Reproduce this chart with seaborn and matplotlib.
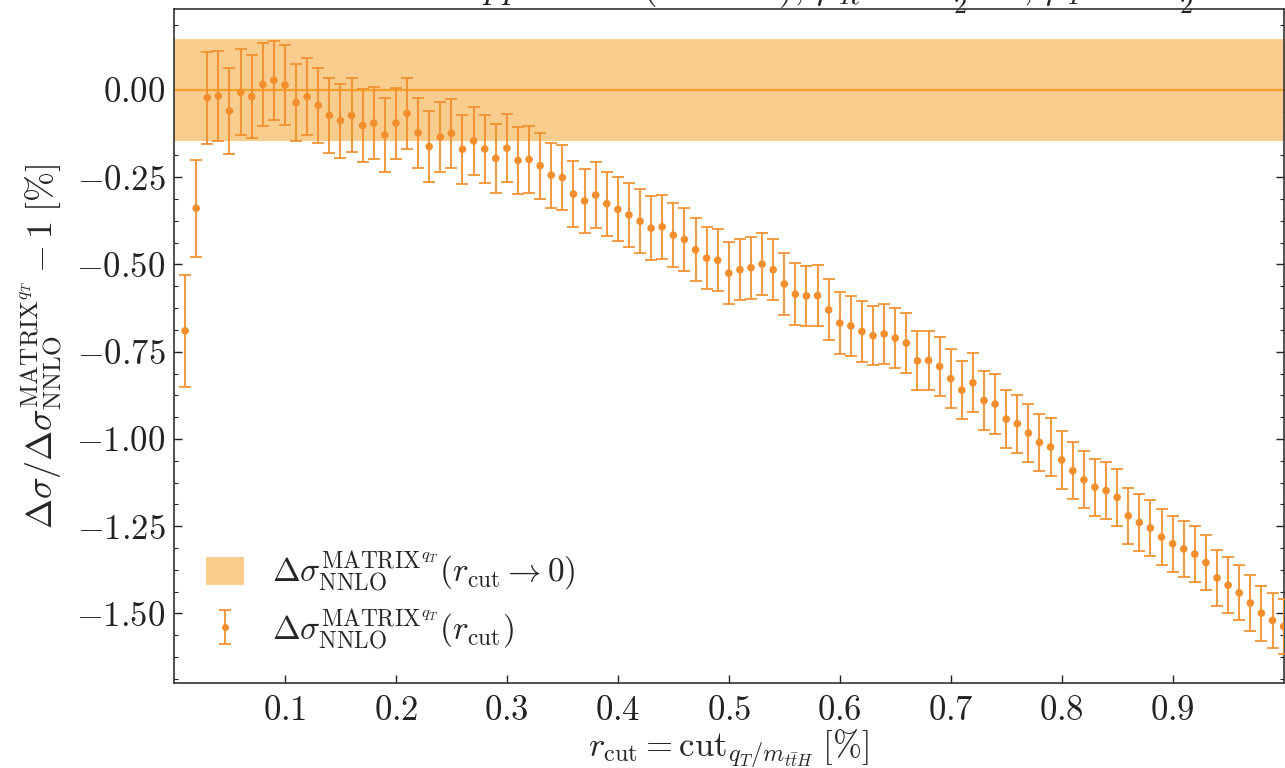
import numpy as np
import pandas as pd
import matplotlib
matplotlib.use("Agg")
import matplotlib.pyplot as plt
from matplotlib.ticker import MultipleLocator, FixedLocator, FuncFormatter
from matplotlib.patches import Patch
from matplotlib.lines import Line2D
from matplotlib.legend_handler import HandlerTuple
import seaborn as sns

# q_T-subtraction cut values r_cut [%]
r_cut = [0.01, 0.02, 0.03, 0.04, 0.05, 0.06, 0.07, 0.08, 0.09, 0.10,
         0.11, 0.12, 0.13, 0.14, 0.15, 0.16, 0.17, 0.18, 0.19, 0.20,
         0.21, 0.22, 0.23, 0.24, 0.25, 0.26, 0.27, 0.28, 0.29, 0.30,
         0.31, 0.32, 0.33, 0.34, 0.35, 0.36, 0.37, 0.38, 0.39, 0.40,
         0.41, 0.42, 0.43, 0.44, 0.45, 0.46, 0.47, 0.48, 0.49, 0.50,
         0.51, 0.52, 0.53, 0.54, 0.55, 0.56, 0.57, 0.58, 0.59, 0.60,
         0.61, 0.62, 0.63, 0.64, 0.65, 0.66, 0.67, 0.68, 0.69, 0.70,
         0.71, 0.72, 0.73, 0.74, 0.75, 0.76, 0.77, 0.78, 0.79, 0.80,
         0.81, 0.82, 0.83, 0.84, 0.85, 0.86, 0.87, 0.88, 0.89, 0.90,
         0.91, 0.92, 0.93, 0.94, 0.95, 0.96, 0.97, 0.98, 0.99, 1.00]

# relative deviation of the NNLO coefficient from its r_cut -> 0 extrapolation [%]
deviation = [-0.690, -0.339, -0.022, -0.017, -0.060, -0.007, -0.019, 0.016, 0.028, 0.014,
             -0.036, -0.019, -0.044, -0.073, -0.088, -0.073, -0.102, -0.095, -0.129, -0.095,
             -0.067, -0.123, -0.162, -0.135, -0.124, -0.170, -0.146, -0.169, -0.196, -0.167,
             -0.202, -0.199, -0.217, -0.244, -0.251, -0.298, -0.318, -0.301, -0.326, -0.342,
             -0.358, -0.376, -0.396, -0.392, -0.416, -0.428, -0.458, -0.482, -0.488, -0.525,
             -0.515, -0.509, -0.499, -0.515, -0.556, -0.585, -0.590, -0.589, -0.630, -0.668,
             -0.676, -0.692, -0.704, -0.699, -0.711, -0.725, -0.776, -0.775, -0.792, -0.827,
             -0.860, -0.839, -0.890, -0.900, -0.943, -0.956, -0.983, -1.010, -1.023, -1.060,
             -1.091, -1.117, -1.138, -1.148, -1.167, -1.220, -1.239, -1.255, -1.281, -1.300,
             -1.315, -1.330, -1.354, -1.398, -1.419, -1.441, -1.470, -1.499, -1.520, -1.537]

# numerical uncertainty of each point [%]
uncertainty = [0.161, 0.139, 0.132, 0.130, 0.124, 0.123, 0.118, 0.119, 0.113, 0.115,
               0.111, 0.111, 0.108, 0.107, 0.106, 0.106, 0.104, 0.103, 0.105, 0.102,
               0.101, 0.101, 0.101, 0.100, 0.099, 0.099, 0.098, 0.098, 0.099, 0.098,
               0.096, 0.096, 0.095, 0.093, 0.093, 0.094, 0.092, 0.094, 0.092, 0.092,
               0.092, 0.092, 0.091, 0.092, 0.091, 0.090, 0.090, 0.089, 0.089, 0.088,
               0.087, 0.089, 0.088, 0.087, 0.088, 0.088, 0.087, 0.087, 0.087, 0.088,
               0.086, 0.087, 0.085, 0.086, 0.086, 0.085, 0.085, 0.085, 0.084, 0.084,
               0.084, 0.084, 0.084, 0.085, 0.083, 0.083, 0.083, 0.083, 0.083, 0.083,
               0.082, 0.082, 0.082, 0.082, 0.082, 0.081, 0.081, 0.081, 0.080, 0.080,
               0.080, 0.080, 0.080, 0.080, 0.080, 0.079, 0.079, 0.079, 0.079, 0.079]

# extrapolated r_cut -> 0 result and its uncertainty [%]
extrap_center = 0.0
extrap_unc = 0.145

x_ticks = [0.1, 0.2, 0.3, 0.4, 0.5, 0.6, 0.7, 0.8, 0.9]

df = pd.DataFrame({"r_cut": r_cut, "deviation": deviation, "uncertainty": uncertainty})

sns.set_theme(style="ticks")
plt.rcParams["font.family"] = ["serif"]
plt.rcParams["font.serif"] = ["cmr10", "DejaVu Serif"]
plt.rcParams["mathtext.fontset"] = "cm"
plt.rcParams["axes.formatter.use_mathtext"] = True
plt.rcParams["axes.unicode_minus"] = True

c_pts = "#F28E2B"
c_band = "#F9CD8E"
c_line = "#F5A028"

fig = plt.figure(figsize=(12.85, 7.68), dpi=100)
ax = fig.add_axes([174 / 1285, 1 - 683.3 / 768, (1283.6 - 174) / 1285, (683.3 - 9) / 768])

ax.axhspan(extrap_center - extrap_unc, extrap_center + extrap_unc,
           color=c_band, lw=0, zorder=1)
ax.axhline(extrap_center, color=c_line, lw=1.6, zorder=2)

eb = ax.errorbar(df["r_cut"], df["deviation"], yerr=df["uncertainty"],
                 fmt="none", ecolor=c_pts, elinewidth=1.5, capsize=4.0,
                 capthick=1.4, alpha=0.88, zorder=3)
sns.scatterplot(data=df, x="r_cut", y="deviation", ax=ax, color=c_pts,
                s=30, edgecolor="none", zorder=4, legend=False)

ax.set_xlim(0.0, 1.0)
ax.set_ylim(-1.70, 0.232)
ax.xaxis.set_major_locator(FixedLocator(x_ticks))
ax.yaxis.set_major_locator(MultipleLocator(0.25))
ax.yaxis.set_minor_locator(MultipleLocator(0.0625))
ax.yaxis.set_major_formatter(FuncFormatter(lambda v, p: "$%.2f$" % (v + 0.0)))
ax.xaxis.set_major_formatter(FuncFormatter(lambda v, p: "$%.1f$" % v))

ax.tick_params(axis="both", which="both", direction="in", right=True, top=False,
               labelsize=25, colors="#222222")
ax.tick_params(axis="both", which="major", length=6, width=1.0)
ax.tick_params(axis="x", which="major", pad=9)
ax.tick_params(axis="y", which="major", pad=6)
ax.tick_params(axis="y", which="minor", length=3, width=0.8)
for s in ax.spines.values():
    s.set_linewidth(1.2)
    s.set_color("#333333")

ax.set_xlabel(r"$r_{\mathrm{cut}} = \mathrm{cut}_{q_T/m_{t\bar{t}H}}\;[\%]$",
              fontsize=25, labelpad=0)
ax.set_ylabel(r"$\Delta\sigma/\Delta\sigma^{\mathrm{MATRIX}^{q_T}}_{\mathrm{NNLO}} - 1\;[\%]$",
              fontsize=26, labelpad=8)

dot = Line2D([], [], ls="none", marker="o", ms=5, color=c_pts, mec="none")
handles = [Patch(facecolor=c_band, edgecolor="none"), (eb, dot)]
labels = [r"$\Delta\sigma^{\mathrm{MATRIX}^{q_T}}_{\mathrm{NNLO}}(r_{\mathrm{cut}}\to 0)$",
          r"$\Delta\sigma^{\mathrm{MATRIX}^{q_T}}_{\mathrm{NNLO}}(r_{\mathrm{cut}})$"]
leg = ax.legend(handles, labels, loc="lower left", bbox_to_anchor=(0.0, 0.0),
                frameon=False, fontsize=24, handlelength=1.15, handleheight=0.95,
                labelspacing=0.4, handletextpad=0.85, borderaxespad=0.55,
                handler_map={tuple: HandlerTuple(ndivide=1)})

fig.text(864 / 1285, 1 + 1.0 / 768,
         r"$pp\to t\bar{t}H$ (13 TeV), $\mu_R = \frac{2m_t + m_H}{2}$, $\mu_F = \frac{2m_t + m_H}{2}$",
         ha="center", va="baseline", fontsize=27)

fig.savefig("out.png", dpi=100)
